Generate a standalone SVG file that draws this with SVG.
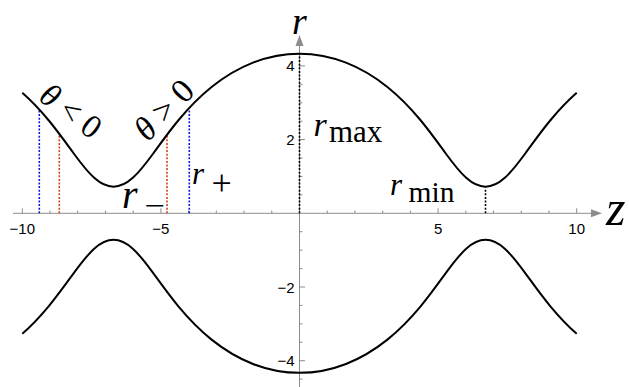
<svg xmlns="http://www.w3.org/2000/svg" xmlns:xlink="http://www.w3.org/1999/xlink" width="629" height="387" viewBox="0 0 629 387">
<defs>
<style>
.ax{stroke:#8c8c8c;stroke-width:1;fill:none}
.tk{stroke:#8c8c8c;stroke-width:1}
.tl{font-family:"Liberation Sans",Arial,sans-serif;font-size:15px;fill:#000}
.curve{stroke:#000;stroke-width:2;fill:none;stroke-linejoin:round}
.dot{stroke-width:1.6;stroke-dasharray:2 1.6;fill:none}
.m{font-family:"Liberation Serif","Times New Roman",serif;fill:#000}
.i{font-style:italic}
</style>
</defs>
<g id="axes">
<line class="ax" x1="13" y1="213.3" x2="594" y2="213.3"/>
<polygon points="602,213.3 591,209.3 591,217.3" fill="#8c8c8c"/>
<line class="ax" x1="299.5" y1="387" x2="299.5" y2="44"/>
<polygon points="299.5,35 295.5,46 303.5,46" fill="#8c8c8c"/>
<g id="xticks">
<path class="tk" d="M22.3 213.3V208.3M160.9 213.3V208.3M438.1 213.3V208.3M576.7 213.3V208.3M50 213.3V210.5M77.7 213.3V210.5M105.5 213.3V210.5M133.2 213.3V210.5M188.6 213.3V210.5M216.3 213.3V210.5M244.1 213.3V210.5M271.8 213.3V210.5M327.2 213.3V210.5M354.9 213.3V210.5M382.7 213.3V210.5M410.4 213.3V210.5M465.8 213.3V210.5M493.5 213.3V210.5M521.3 213.3V210.5M549 213.3V210.5"/>
</g>
<g id="yticks">
<path class="tk" d="M299.5 65.9H305M299.5 139.6H305M299.5 287H305M299.5 360.7H305M299.5 194.9H302.5M299.5 176.45H302.5M299.5 158H302.5M299.5 121.2H302.5M299.5 102.75H302.5M299.5 84.3H302.5M299.5 231.7H302.5M299.5 250.15H302.5M299.5 268.6H302.5M299.5 305.4H302.5M299.5 323.85H302.5M299.5 342.3H302.5M299.5 379.1H302.5"/>
</g>
<g id="ticklabels" class="tl">
<text x="22.3" y="233.5" text-anchor="middle">−10</text>
<text x="160.9" y="233.5" text-anchor="middle">−5</text>
<text x="438.1" y="233.5" text-anchor="middle">5</text>
<text x="576.7" y="233.5" text-anchor="middle">10</text>
<text x="294.5" y="71.3" text-anchor="end">4</text>
<text x="294.5" y="145" text-anchor="end">2</text>
<text x="294.5" y="292.6" text-anchor="end">−2</text>
<text x="294.5" y="366.3" text-anchor="end">−4</text>
</g>
</g>
<g id="guides">
<line class="dot" stroke="#000" x1="299.5" y1="213.3" x2="299.5" y2="54.5"/>
<line class="dot" stroke="#000" x1="485.5" y1="213.3" x2="485.5" y2="187.5"/>
<line class="dot" stroke="#1414e0" x1="39.3" y1="213.3" x2="39.3" y2="110"/>
<line class="dot" stroke="#1414e0" x1="189.3" y1="213.3" x2="189.3" y2="109"/>
<line class="dot" stroke="#d2441a" x1="59.3" y1="213.3" x2="59.3" y2="134.5"/>
<line class="dot" stroke="#d2441a" x1="167" y1="213.3" x2="167" y2="135.5"/>
</g>
<g id="curves">
<path id="upper" class="curve" d="M22.3 92.77C32.05 101.37 40.78 110.81 48.6 120.25C58.22 131.86 66.41 143.46 73.77 153.51C81.13 163.56 87.7 172.06 94.18 177.86C100.66 183.66 107.06 186.77 113.5 186.77C119.94 186.77 126.34 183.66 132.82 177.86C139.3 172.06 145.87 163.56 153.23 153.51C160.59 143.46 168.78 131.86 178.4 120.25C188.02 108.64 199.07 97.05 211.6 87C224.13 76.95 238.11 68.45 253.01 62.65C267.91 56.85 283.7 53.74 299.5 53.74C315.3 53.74 331.09 56.85 345.99 62.65C360.89 68.45 374.87 76.95 387.4 87C399.93 97.05 410.98 108.64 420.6 120.25C430.22 131.86 438.41 143.46 445.77 153.51C453.13 163.56 459.7 172.06 466.18 177.86C472.66 183.66 479.06 186.77 485.5 186.77C491.94 186.77 498.34 183.66 504.82 177.86C511.3 172.06 517.87 163.56 525.23 153.51C532.59 143.46 540.78 131.86 550.4 120.25C558.22 110.81 566.95 101.37 576.7 92.77"/>
<use xlink:href="#upper" href="#upper" transform="matrix(1 0 0 -1 0 426.6)"/>
</g>
<g id="labels">
<text class="m i" x="292" y="34" font-size="38">r</text>
<text class="m i" x="606" y="225" font-size="50">z</text>
<text class="m" font-size="33" text-anchor="middle" transform="translate(70.9 110.9) rotate(37)" y="11"><tspan class="i">θ</tspan> &lt; 0</text>
<text class="m" font-size="34" text-anchor="middle" transform="translate(164.2 110) rotate(-46)" y="11"><tspan class="i">θ</tspan> &gt; 0</text>
<g id="rmax"><text class="m i" x="313.5" y="135.5" font-size="34">r</text><text class="m" x="329" y="141.7" font-size="31">max</text></g>
<g id="rmin"><text class="m i" x="390" y="195" font-size="31">r</text><text class="m" x="408.5" y="201.7" font-size="29.5">min</text></g>
<g id="rplus"><text class="m i" x="192" y="183.5" font-size="31">r</text><text class="m" x="221.7" y="195" font-size="36" text-anchor="middle">+</text></g>
<g id="rminus"><text class="m i" x="122" y="208.3" font-size="40">r</text><text class="m" font-size="28" text-anchor="middle" transform="translate(155 214.5) scale(1.3 1)">−</text></g>
</g>
</svg>
